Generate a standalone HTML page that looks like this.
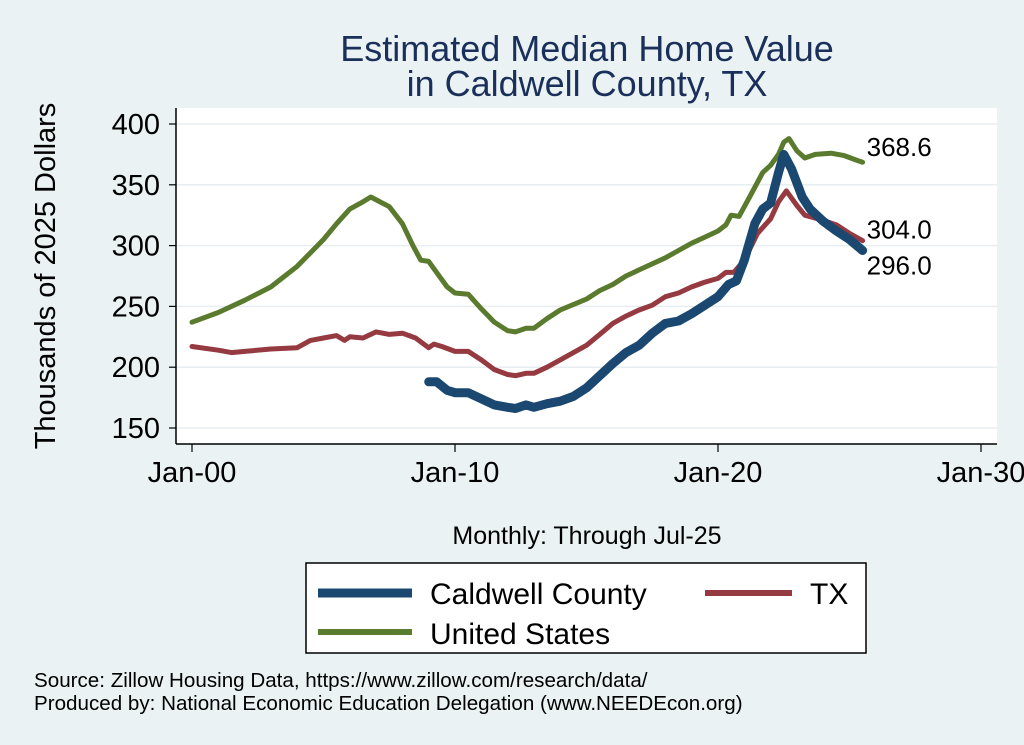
<!DOCTYPE html>
<html><head><meta charset="utf-8"><style>
body{margin:0;background:#eaf2f3;}
svg{display:block;font-family:"Liberation Sans",Arial,sans-serif;}
</style></head><body>
<svg id="chart" width="1024" height="745" viewBox="0 0 1024 745">
<rect x="0" y="0" width="1024" height="745" fill="#eaf2f3"/>
<text x="587" y="61" text-anchor="middle" font-size="36" fill="#1a2f5a">Estimated Median Home Value</text>
<text x="587" y="96" text-anchor="middle" font-size="36" fill="#1a2f5a">in Caldwell County, TX</text>
<rect x="176" y="108" width="821" height="336" fill="#ffffff"/>
<g id="grid"></g>
<g id="axes"></g>
<g id="series"></g>
<text x="55" y="276" text-anchor="middle" font-size="29" fill="#000" transform="rotate(-90 55 276)">Thousands of 2025 Dollars</text>
<text x="587" y="544" text-anchor="middle" font-size="25" fill="#000">Monthly: Through Jul-25</text>
<g>
<rect x="306" y="563" width="560" height="90" fill="#fff" stroke="#000" stroke-width="1.5"/>
<line x1="318" y1="593" x2="412" y2="593" stroke="#1a4870" stroke-width="9"/>
<text x="430" y="604" font-size="30">Caldwell County</text>
<line x1="705" y1="593" x2="792" y2="593" stroke="#953a40" stroke-width="6"/>
<text x="810" y="604" font-size="30">TX</text>
<line x1="318" y1="632" x2="412" y2="632" stroke="#5a7a2e" stroke-width="6"/>
<text x="430" y="644" font-size="30">United States</text>
</g>
<text x="34" y="687" font-size="20.6">Source: Zillow Housing Data, https://www.zillow.com/research/data/</text>
<text x="34" y="710" font-size="20.6">Produced by: National Economic Education Delegation (www.NEEDEcon.org)</text>
</svg>
<script>
const yTicks=[150,200,250,300,350,400];
const xTickYears=[0,10,20,30];
const xTickLabels=["Jan-00","Jan-10","Jan-20","Jan-30"];
const usYears=[0,1,2,3,4,5,5.5,6,6.5,6.8,7.5,8,8.4,8.7,9,9.3,9.7,10,10.5,11,11.5,12,12.3,12.7,13,13.5,14,15,15.5,16,16.5,17,18,18.5,19,19.5,20,20.3,20.5,20.8,21.2,21.7,22,22.3,22.5,22.7,23,23.3,23.7,24.3,24.8,25.3,25.5];
const usValues=[237,245,255,266,283,305,318,330,336,340,332,318,300,288,287,278,266,261,260,248,237,230,229,232,232,240,247,256,263,268,275,280,290,296,302,307,312,317,325,324,340,360,366,375,385,388,378,372,375,376,374,370,368.6];
const txYears=[0,1,1.5,2,3,4,4.5,5,5.5,5.8,6,6.5,7,7.5,8,8.5,9,9.2,9.5,10,10.5,11,11.5,12,12.3,12.7,13,13.5,14,15,15.5,16,16.5,17,17.5,18,18.5,19,19.5,20,20.3,20.6,21,21.5,22,22.3,22.6,23,23.3,23.8,24.5,25,25.5];
const txValues=[217,214,212,213,215,216,222,224,226,222,225,224,229,227,228,224,216,219,217,213,213,206,198,194,193,195,195,200,206,218,227,236,242,247,251,258,261,266,270,273,278,278,288,310,322,336,345,333,325,322,317,310,304];
const cwYears=[9,9.3,9.7,10,10.5,11,11.5,12,12.3,12.7,13,13.5,14,14.5,15,15.5,16,16.5,17,17.5,18,18.5,19,19.5,20,20.4,20.7,21,21.4,21.7,22,22.3,22.5,22.8,23.2,23.5,24,24.5,25,25.5];
const cwValues=[188,188,181,179,179,174,169,167,166,169,167,170,172,176,183,193,203,212,218,228,236,238,244,251,258,268,271,288,318,330,335,360,375,363,340,330,320,312,305,296];
const endLabels=["368.6","304.0","296.0"];

const NS="http://www.w3.org/2000/svg";
const x=t=>192+t*26.3;
const y=v=>124+(400-v)*1.216;
function mk(tag,attrs,parent){const e=document.createElementNS(NS,tag);for(const k in attrs)e.setAttribute(k,attrs[k]);parent.appendChild(e);return e;}
const grid=document.getElementById('grid'),axes=document.getElementById('axes'),series=document.getElementById('series');
yTicks.forEach(v=>{
  const g=mk('line',{x1:176,x2:997,y1:y(v),y2:y(v),stroke:'#e6eef2','stroke-width':1.5},grid);
  
  
  const t=mk('line',{x1:169,x2:176,y1:y(v),y2:y(v),stroke:'#000','stroke-width':1.2},axes);
  
  
  const l=mk('text',{x:160,y:y(v)+10,'text-anchor':'end','font-size':29},axes);
  l.textContent=v;
  
  
});
xTickYears.forEach((yr,i)=>{
  const t=mk('line',{x1:x(yr),x2:x(yr),y1:444,y2:452,stroke:'#000','stroke-width':1.2},axes);
  
  
  const l=mk('text',{x:x(yr),y:482,'text-anchor':'middle','font-size':29},axes);
  l.textContent=xTickLabels[i];
  
  
});
const ya=mk('line',{x1:176,x2:176,y1:108,y2:444,stroke:'#000','stroke-width':1.5},axes);


const xa=mk('line',{x1:176,x2:997,y1:444,y2:444,stroke:'#000','stroke-width':1.5},axes);


function line(ys,vs,color,w,name){
  const d=ys.map((t,i)=>(i?'L':'M')+x(t).toFixed(1)+','+y(vs[i]).toFixed(1)).join('');
  const p=mk('path',{d:d,fill:'none',stroke:color,'stroke-width':w,'stroke-linejoin':'round','stroke-linecap':'round'},series);
  
  
}
line(usYears,usValues,'#5a7a2e',5,'line-united-states');
line(txYears,txValues,'#953a40',5,'line-tx');
line(cwYears,cwValues,'#1a4870',9,'line-caldwell-county');
const ends=[[usYears,usValues,-6],[txYears,txValues,-2],[cwYears,cwValues,24]];
ends.forEach((e,i)=>{
  const n=e[0].length-1;
  const l=mk('text',{x:x(e[0][n])+4,y:y(e[1][n])+e[2],'font-size':26},series);
  l.textContent=endLabels[i];
  
  
});
</script>
</body></html>
